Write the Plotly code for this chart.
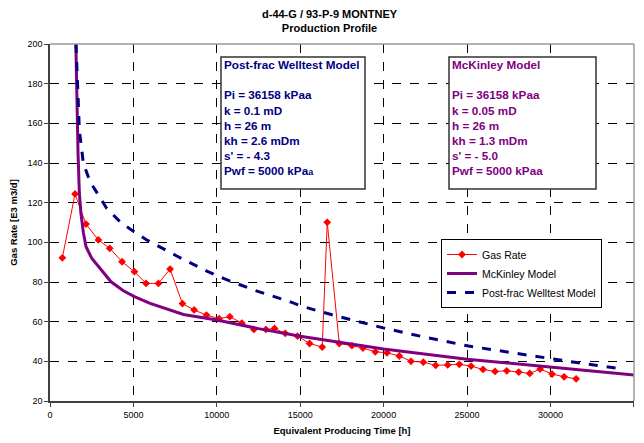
import plotly.graph_objects as go

# Gas rate data
gas_time = [740, 1500, 2160, 2900, 3580, 4320, 5060, 5760, 6500, 7200, 7940, 8640, 9380,
            10140, 10780, 11500, 12220, 12940, 13460, 14100, 14840, 15560, 16320, 16620,
            17340, 18100, 18760, 19500, 20200, 20940, 21640, 22380, 23120, 23840, 24540,
            25240, 25960, 26680, 27380, 28100, 28760, 29380, 30100, 30820, 31540]
gas_rate = [92.2, 124.4, 109.2, 101.2, 97.0, 90.2, 85.2, 79.3, 79.3, 86.5, 69.1, 65.9, 63.3,
            61.5, 62.5, 59.3, 56.1, 56.1, 56.6, 54.1, 52.7, 49.0, 47.2, 110.1,
            49.0, 47.9, 46.7, 44.8, 44.3, 42.7, 40.0, 39.6, 38.0, 38.2, 38.5,
            37.6, 35.9, 34.9, 35.2, 34.6, 33.9, 36.1, 33.6, 32.2, 31.2]

# McKinley model
mck_time = [1550, 1600, 1680, 1760, 1850, 2000, 2160, 2500, 2900, 3300, 3660, 4400, 5060,
            6000, 7000, 8000, 10000, 12500, 15000, 17500, 20000, 25000, 30000, 35000]
mck_rate = [200, 170, 145, 125, 115, 105, 97.8, 92.0, 87.7, 83.5, 80.1, 75.6, 72.6,
            69.2, 66.2, 63.6, 60.8, 56.5, 52.7, 49.3, 46.2, 41.1, 37.0, 33.1]

# Post-frac welltest model
pf_time = [1560, 1620, 1760, 2000, 2400, 3400, 4200, 4940, 5800, 7600, 9400, 10400, 12200,
           14200, 15200, 17200, 20100, 22200, 25100, 28200, 30200, 32200, 34400]
pf_rate = [200, 183.5, 156.6, 139.8, 130.6, 117.1, 110.4, 105.9, 101.2, 93.1, 85.5, 81.8, 76.0,
           70.6, 67.5, 62.8, 56.6, 52.7, 47.7, 43.7, 41.0, 38.6, 36.1]

title_lines = ["d-44-G / 93-P-9 MONTNEY", "Production Profile"]
pf_box = ["Post-frac Welltest Model", "", "Pi = 36158 kPaa", "k = 0.1 mD", "h = 26 m",
          "kh = 2.6 mDm", "s' = - 4.3", "Pwf = 5000 kPa<span style='font-size:9px'>a</span>"]
mck_box = ["McKinley Model", "", "Pi = 36158 kPaa", "k = 0.05 mD", "h = 26 m",
           "kh = 1.3 mDm", "s' = - 5.0", "Pwf = 5000 kPaa"]

FONT = "Liberation Sans, Arial, sans-serif"
OFF = 8  # page body margin
W, H = 644 - OFF, 443 - OFF
L, R, T, B = 50 - OFF, 10, 44 - OFF, 42
pw, ph = W - L - R, H - T - B

def px(x):
    return (x - OFF - L) / pw

def py(y):
    return (H - B - (y - OFF)) / ph

fig = go.Figure()
fig.add_trace(go.Scatter(x=gas_time, y=gas_rate, name="Gas Rate", mode="lines+markers",
                         line=dict(color="#FF0000", width=1),
                         marker=dict(symbol="diamond", size=6, color="#FF0000")))
fig.add_trace(go.Scatter(x=mck_time, y=mck_rate, name="McKinley Model", mode="lines",
                         line=dict(color="#800080", width=3)))
fig.add_trace(go.Scatter(x=pf_time, y=pf_rate, name="Post-frac Welltest Model", mode="lines",
                         line=dict(color="#000080", width=3, dash="dash")))

shapes = []
annotations = []
# gray top/right border of plot area
shapes.append(dict(type="line", xref="paper", yref="paper", x0=0, x1=1, y0=1, y1=1,
                   line=dict(color="#999999", width=1.5), layer="above"))
shapes.append(dict(type="line", xref="paper", yref="paper", x0=1, x1=1, y0=0, y1=1,
                   line=dict(color="#999999", width=1.5), layer="above"))

for (x0, x1, lines, color) in [(221, 365, pf_box, "#000080"), (449, 596, mck_box, "#800080")]:
    shapes.append(dict(type="rect", xref="paper", yref="paper", x0=px(x0), x1=px(x1),
                       y0=py(189), y1=py(57), line=dict(color="#333333", width=1.5),
                       fillcolor="white", layer="above"))
    annotations.append(dict(xref="paper", yref="paper", x=px(x0 + 1), y=py(56),
                            xanchor="left", yanchor="top", align="left", showarrow=False,
                            text="<b>" + "<br>".join(lines) + "</b>",
                            font=dict(family=FONT, size=11.7, color=color)))

annotations.append(dict(xref="paper", yref="paper", x=px(330), y=py(6), xanchor="center",
                        yanchor="top", showarrow=False, align="center",
                        text="<b>" + "<br>".join(title_lines) + "</b>",
                        font=dict(family=FONT, size=11, color="black")))

axis_common = dict(showgrid=True, gridcolor="black", griddash="dash", gridwidth=1,
                   showline=True, linecolor="#404040", linewidth=1.5,
                   ticks="outside", ticklen=4, tickcolor="#404040", zeroline=False,
                   tickformat="d", automargin=False)

fig.update_layout(
    width=W, height=H, margin=dict(l=L, r=R, t=T, b=B, autoexpand=False),
    paper_bgcolor="white", plot_bgcolor="white",
    font=dict(family=FONT, size=9, color="black"),
    showlegend=True,
    legend=dict(x=px(441), y=py(239), xanchor="left", yanchor="top",
                bordercolor="black", borderwidth=1, bgcolor="white",
                font=dict(family=FONT, size=10.5, color="black"), tracegroupgap=0),
    shapes=shapes, annotations=annotations,
    xaxis=dict(range=[0, 35010], tick0=0, dtick=5000, **axis_common,
               title=dict(text="<b>Equivalent Producing Time [h]</b>", standoff=9,
                          font=dict(family=FONT, size=9.5))),
    yaxis=dict(range=[20, 200], tick0=20, dtick=20, **axis_common,
               title=dict(text="<b>Gas Rate [E3 m3/d]</b>", standoff=11,
                          font=dict(family=FONT, size=9.5))),
)

fig.write_html("out.html")
